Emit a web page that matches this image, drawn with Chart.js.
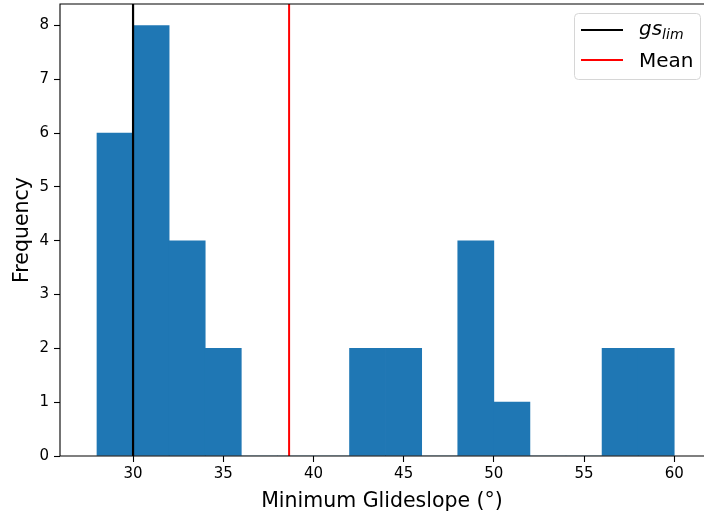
<!DOCTYPE html>
<html>
<head>
<meta charset="utf-8">
<script src="https://cdn.jsdelivr.net/npm/chart.js@4.4.1/dist/chart.umd.min.js"></script>
<style>
  html, body { margin: 0; padding: 0; background: #fff; }
  #wrap { width: 704px; height: 516px; position: relative; }
</style>
</head>
<body>
<div id="wrap"><canvas id="histChart" width="704" height="516"></canvas></div>
<script>
// histogram bins (width 2) and counts
var binCenters = [29, 31, 33, 35, 37, 39, 41, 43, 45, 47, 49, 51, 53, 55, 57, 59];
var binCounts  = [6, 8, 4, 2, 0, 0, 0, 2, 2, 0, 4, 1, 0, 0, 2, 2];
var gsLim = 30;
var meanVal = 38.65;
var xTicks = [30, 35, 40, 45, 50, 55, 60];
var yTicks = [0, 1, 2, 3, 4, 5, 6, 7, 8];
var legendItems = [
    { label: 'gs', sub: 'lim', color: '#000000' },
    { label: 'Mean', sub: '', color: '#ff0000' }
];

var FONT = "'DejaVu Sans', sans-serif";

// spines + legend drawn inside the plot area
var framePlugin = {
    id: 'frame',
    afterDraw: function (chart) {
        var ctx = chart.ctx, a = chart.chartArea;
        ctx.save();
        ctx.strokeStyle = '#000';
        ctx.lineWidth = 1.1;
        ctx.beginPath();
        ctx.moveTo(a.left, a.bottom);
        ctx.lineTo(a.left, a.top);
        ctx.lineTo(a.right + 2, a.top);
        ctx.moveTo(a.left, a.bottom);
        ctx.lineTo(a.right + 2, a.bottom);
        ctx.stroke();

        // legend box
        var bx = 574, by = 13, bw = 126, bh = 66, r = 4;
        ctx.fillStyle = 'rgba(255,255,255,0.8)';
        ctx.strokeStyle = '#d6d6d6';
        ctx.lineWidth = 1;
        ctx.beginPath();
        ctx.roundRect(bx + 0.5, by + 0.5, bw, bh, r);
        ctx.fill();
        ctx.stroke();

        legendItems.forEach(function (it, i) {
            var y = 30 + i * 30;
            ctx.strokeStyle = it.color;
            ctx.lineWidth = 2;
            ctx.beginPath();
            ctx.moveTo(581, y);
            ctx.lineTo(623, y);
            ctx.stroke();
            ctx.fillStyle = '#000';
            ctx.textBaseline = 'alphabetic';
            ctx.textAlign = 'left';
            if (it.sub) {
                ctx.font = 'italic 20px ' + FONT;
                ctx.fillText(it.label, 639, y + 5);
                var w = ctx.measureText(it.label).width;
                ctx.font = 'italic 14px ' + FONT;
                ctx.fillText(it.sub, 639 + w, y + 9);
            } else {
                ctx.font = '20px ' + FONT;
                ctx.fillText(it.label, 639, y + 7);
            }
        });
        ctx.restore();
    }
};

var noPad = function (s) {
    s.paddingTop = 0; s.paddingBottom = 0; s.paddingLeft = 0; s.paddingRight = 0;
};

var ctx = document.getElementById('histChart').getContext('2d');
var histChart = new Chart(ctx, {
    type: 'bar',
    data: {
        datasets: [{
            type: 'line',
            label: 'gs_lim',
            data: [{ x: gsLim, y: 0 }, { x: gsLim, y: 8.4 }],
            borderColor: '#000000',
            borderWidth: 2.2,
            pointRadius: 0,
            order: 1
        }, {
            type: 'line',
            label: 'Mean',
            data: [{ x: meanVal, y: 0 }, { x: meanVal, y: 8.4 }],
            borderColor: '#ff0000',
            borderWidth: 2,
            pointRadius: 0,
            order: 1
        }, {
            type: 'bar',
            label: 'hist',
            data: binCenters.map(function (c, i) { return { x: c, y: binCounts[i] }; }),
            backgroundColor: '#1f77b4',
            borderWidth: 0,
            barPercentage: 1,
            categoryPercentage: 1,
            order: 2
        }]
    },
    options: {
        responsive: false,
        animation: false,
        layout: { padding: { top: 4, right: 0, left: 0, bottom: 0 } },
        plugins: {
            legend: { display: false },
            tooltip: { enabled: false }
        },
        scales: {
            x: {
                type: 'linear',
                min: 25.95,
                max: 61.65,
                offset: false,
                afterFit: function (s) { s.height = 60; noPad(s); },
                afterBuildTicks: function (s) { s.ticks = xTicks.map(function (v) { return { value: v }; }); },
                grid: { drawOnChartArea: false, offset: false, tickLength: 6, tickColor: '#000', tickWidth: 1.1 },
                border: { display: false },
                ticks: { color: '#000', font: { family: FONT, size: 15 }, padding: 3, maxRotation: 0 },
                title: { display: true, text: 'Minimum Glideslope (°)', color: '#000', font: { family: FONT, size: 20.5 }, padding: { top: 0, bottom: 2 } }
            },
            y: {
                min: 0,
                max: 8.4,
                afterFit: function (s) { s.width = 60; noPad(s); },
                afterBuildTicks: function (s) { s.ticks = yTicks.map(function (v) { return { value: v }; }); },
                grid: { drawOnChartArea: false, tickLength: 6, tickColor: '#000', tickWidth: 1.1 },
                border: { display: false },
                ticks: { color: '#000', font: { family: FONT, size: 15 }, padding: 5 },
                title: { display: true, text: 'Frequency', color: '#000', font: { family: FONT, size: 20.5 }, padding: { top: 10, bottom: 0 } }
            }
        }
    },
    plugins: [framePlugin]
});
</script>
</body>
</html>
